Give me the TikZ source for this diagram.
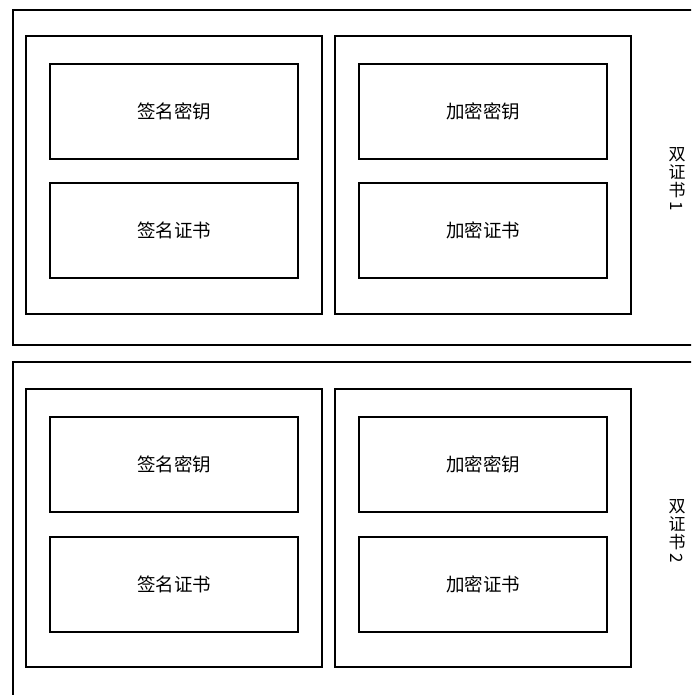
\documentclass[tikz,border=0pt]{standalone}
\usepackage{fontspec}
\usepackage{graphicx}
\newfontfamily\cjk{Noto Sans CJK SC}
\begin{document}
\begin{tikzpicture}[x=1pt,y=-1pt,
  frame/.style={draw=black,line width=2pt},
  keybox/.style={draw=black,line width=2pt,minimum width=248pt,minimum height=95pt,inner sep=0pt,font=\cjk\fontsize{18.5}{20}\selectfont},
  vlabel/.style={font=\cjk\fontsize{17}{18}\selectfont,align=center,inner sep=0pt}]
\useasboundingbox (0,0) rectangle (691,695);
\clip (0,0) rectangle (691,695);
% group 1
\draw[frame] (13,10) rectangle (705,345);
\draw[frame] (26,36) rectangle (322,314);
\draw[frame] (335,36) rectangle (631,314);
\node[keybox] (s1k) at (174,111.5) {签名密钥};
\node[keybox] (s1c) at (174,230.5) {签名证书};
\node[keybox] (e1k) at (483,111.5) {加密密钥};
\node[keybox] (e1c) at (483,230.5) {加密证书};
\node[vlabel] (l1) at (677,180) {双\\证\\书\\[-2pt]\rotatebox[origin=c]{-90}{1}};
% group 2
\draw[frame] (13,362) rectangle (705,710);
\draw[frame] (26,389) rectangle (322,667);
\draw[frame] (335,389) rectangle (631,667);
\node[keybox] (s2k) at (174,464.5) {签名密钥};
\node[keybox] (s2c) at (174,584) {签名证书};
\node[keybox] (e2k) at (483,464.5) {加密密钥};
\node[keybox] (e2c) at (483,584) {加密证书};
\node[vlabel] (l2) at (677,532) {双\\证\\书\\[-2pt]\rotatebox[origin=c]{-90}{2}};
\end{tikzpicture}
\end{document}
